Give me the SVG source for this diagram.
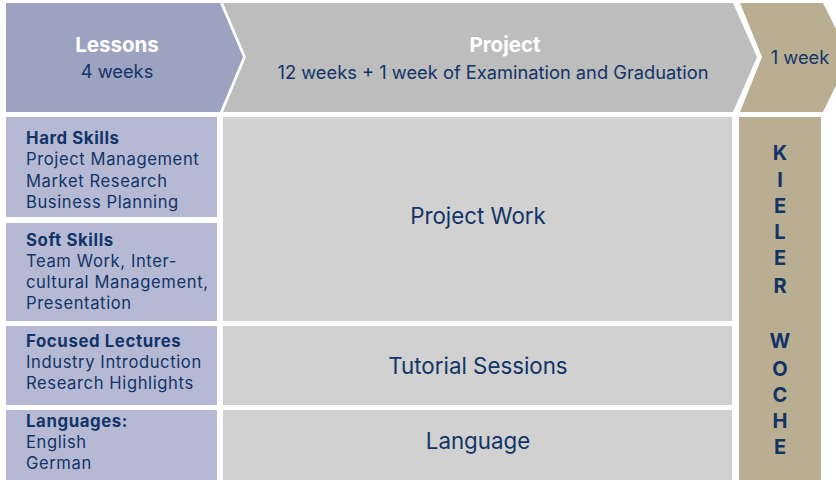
<svg xmlns="http://www.w3.org/2000/svg" width="836" height="480" viewBox="0 0 836 480">
<style>
text{font-family:Inter,"Open Sans","Liberation Sans",sans-serif;fill:#123467}
.h{font-weight:bold;fill:#ffffff;font-size:20.5px;text-anchor:middle}
.sub{font-size:18.3px;text-anchor:middle}
.b{font-weight:bold;font-size:16.8px;letter-spacing:0.6px}
.t{font-size:16.6px;letter-spacing:0.6px}
.m{font-size:22.3px;text-anchor:middle}
.k{font-weight:bold;font-size:20px;text-anchor:middle}
.lav{fill:#b5b9d4}
.gry{fill:#d0d1d0}
</style>
<rect width="836" height="480" fill="#ffffff"/>
<g id="header-lessons">
<polygon points="6,3 220,3 243,57 220,112 6,112" fill="#9ca3c1"/>
<text class="h" x="117" y="52">Lessons</text>
<text class="sub" x="117" y="78">4 weeks</text>
</g>
<g id="header-project">
<polygon points="223,3 733,3 757,57 733,112 223,112 246,57" fill="#bcbdbc"/>
<text class="h" x="505" y="52">Project</text>
<text class="sub" x="493" y="79">12 weeks + 1 week of Examination and Graduation</text>
</g>
<g id="header-week">
<polygon points="740,3 823,3 850,57 823,112 740,112 762,57" fill="#b9ae91"/>
<text class="sub" x="800" y="64">1 week</text>
</g>
<g id="hard-skills">
<rect class="lav" x="6" y="117" width="211" height="100"/>
<text class="b" x="26" y="144">Hard Skills</text>
<text class="t" x="26" y="165">Project Management</text>
<text class="t" x="26" y="187">Market Research</text>
<text class="t" x="26" y="208">Business Planning</text>
</g>
<g id="soft-skills">
<rect class="lav" x="6" y="223" width="211" height="98"/>
<text class="b" x="26" y="246">Soft Skills</text>
<text class="t" x="26" y="267">Team Work, Inter-</text>
<text class="t" x="26" y="288">cultural Management,</text>
<text class="t" x="26" y="309">Presentation</text>
</g>
<g id="focused-lectures">
<rect class="lav" x="6" y="326" width="211" height="79"/>
<text class="b" x="26" y="347">Focused Lectures</text>
<text class="t" x="26" y="368">Industry Introduction</text>
<text class="t" x="26" y="389">Research Highlights</text>
</g>
<g id="languages">
<rect class="lav" x="6" y="410" width="211" height="70"/>
<text class="b" x="26" y="427">Languages:</text>
<text class="t" x="26" y="448">English</text>
<text class="t" x="26" y="469">German</text>
</g>
<g id="project-work">
<rect class="gry" x="223" y="117" width="509" height="204"/>
<text class="m" x="478" y="224">Project Work</text>
</g>
<g id="tutorial-sessions">
<rect class="gry" x="223" y="326" width="509" height="79"/>
<text class="m" x="478" y="374">Tutorial Sessions</text>
</g>
<g id="language">
<rect class="gry" x="223" y="410" width="509" height="70"/>
<text class="m" x="478" y="449">Language</text>
</g>
<g id="kieler-woche">
<rect x="739" y="117" width="82" height="363" fill="#b9ae91"/>
<text class="k" x="780" y="160">K</text>
<text class="k" x="780" y="187">I</text>
<text class="k" x="780" y="213">E</text>
<text class="k" x="780" y="239">L</text>
<text class="k" x="780" y="265">E</text>
<text class="k" x="780" y="293">R</text>
<text class="k" x="780" y="348">W</text>
<text class="k" x="780" y="376">O</text>
<text class="k" x="780" y="402">C</text>
<text class="k" x="780" y="428">H</text>
<text class="k" x="780" y="454">E</text>
</g>
</svg>
